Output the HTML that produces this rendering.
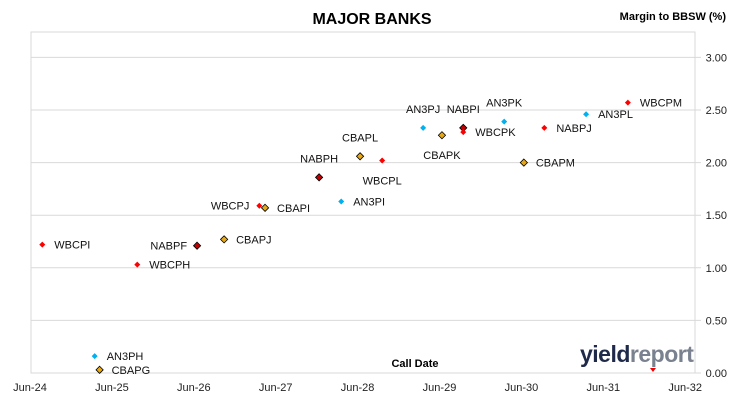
<!DOCTYPE html>
<html><head><meta charset="utf-8"><style>
body{margin:0;background:#fff;font-family:"Liberation Sans",sans-serif}
svg text{font-family:"Liberation Sans",sans-serif}
</style></head><body>
<svg id="c" width="730" height="400" viewBox="0 0 730 400">
<rect width="730" height="400" fill="#fff"/>
<text x="372" y="24" font-size="16" font-weight="bold" text-anchor="middle">MAJOR BANKS</text>
<text x="726" y="20" font-size="11" font-weight="bold" text-anchor="end">Margin to BBSW (%)</text>
<rect x="31" y="32" width="664" height="341" fill="none" stroke="#d9d9d9"/>
<g id="grid"></g><g id="ticks"></g><g id="pts"></g>
<text x="415" y="367" font-size="11" font-weight="bold" text-anchor="middle">Call Date</text>
<g>
<text x="580" y="362" font-size="23" font-weight="bold" fill="#1f2a4a" letter-spacing="-0.5">yield<tspan fill="#7a8290">report</tspan></text>
<path d="M650 368 l3 4 l3 -4z" fill="#e00"/>
</g>
</svg>
<script>
const yTicks=[0,0.5,1,1.5,2,2.5,3];
const xTickLabels=["Jun-24","Jun-25","Jun-26","Jun-27","Jun-28","Jun-29","Jun-30","Jun-31","Jun-32"];
const names=["WBCPI","AN3PH","CBAPG","WBCPH","NABPF","CBAPJ","WBCPJ","CBAPI","NABPH","AN3PI","CBAPL","WBCPL","AN3PJ","CBAPK","NABPI","WBCPK","AN3PK","CBAPM","NABPJ","AN3PL","WBCPM"];
const callYears=[0.15,0.79,0.85,1.31,2.04,2.37,2.80,2.87,3.53,3.80,4.03,4.30,4.80,5.03,5.29,5.29,5.79,6.03,6.28,6.79,7.30];
const margins=[1.22,0.16,0.03,1.03,1.21,1.27,1.59,1.57,1.86,1.63,2.06,2.02,2.33,2.26,2.33,2.29,2.39,2.00,2.33,2.46,2.57];
const issuers=["W","A","C","W","N","C","W","C","N","A","C","W","A","C","N","W","A","C","W","A","W"];
const labelPos=["r","r","r","r","l","r","l","r","t","r","t","b","t","b","t","r","t","r","r","r","r"];
const X=t=>30+t*81.9, Y=v=>373-v*105.2;
const NS="http://www.w3.org/2000/svg";
function mk(tag,attrs,parent){const e=document.createElementNS(NS,tag);for(const k in attrs)e.setAttribute(k,attrs[k]);parent.appendChild(e);return e;}
const grid=document.getElementById('grid'),ticks=document.getElementById('ticks'),pts=document.getElementById('pts');
yTicks.forEach(v=>{
 const l=mk('line',{x1:31,x2:701,y1:Y(v),y2:Y(v),stroke:'#d9d9d9'},grid);
 
 
 const t=mk('text',{x:727,y:Y(v)+4,'font-size':11,'text-anchor':'end',fill:'#222'},ticks);
 t.textContent=v.toFixed(2);
 
 
});
xTickLabels.forEach((s,i)=>{
 const t=mk('text',{x:X(i),y:391,'font-size':11,'text-anchor':'middle',fill:'#222'},ticks);
 t.textContent=s;
 
 
});
const col={W:['#ff0000','none'],A:['#00b0f0','none'],C:['#e6a817','#000'],N:['#c00000','#000']};
names.forEach((n,i)=>{
 const x=X(callYears[i]),y=Y(margins[i]),c=col[issuers[i]];
 const s=c[1]==='none'?3:3.6;
 const d=mk('path',{d:`M${x} ${y-s}L${x+s} ${y}L${x} ${y+s}L${x-s} ${y}Z`,fill:c[0],stroke:c[1],'stroke-width':0.8},pts);
 
 
 let lx=x+12,ly=y+4,a='start';
 if(labelPos[i]==='l'){lx=x-10;a='end';}
 if(labelPos[i]==='t'){lx=x;ly=y-15;a='middle';}
 if(labelPos[i]==='b'){lx=x;ly=y+24;a='middle';}
 const t=mk('text',{x:lx,y:ly,'font-size':11,'text-anchor':a,fill:'#111'},pts);
 t.textContent=n;
 
 
});
</script>
</body></html>
